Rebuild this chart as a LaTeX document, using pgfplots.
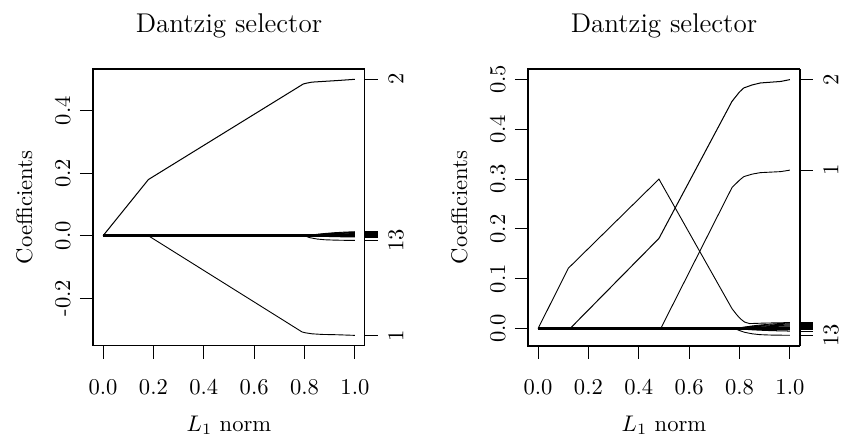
\documentclass[border=0pt]{standalone}
\usepackage{pgfplots}
\pgfplotsset{compat=1.18}
\usepackage{pgfplotstable}

% small coefficients that leave zero near the end of the path
\pgfplotstableread{
x     a       b       d       e       f       g        h        i        m
0     0       0       0       0       0       0        0        0        0
0.80  0       0       0       0       0       0        0        0        0
0.82  0.0020  0.0017  0.0014  0.0010  0.0008  0.0005  -0.0003  -0.0006  -0.0060
0.85  0.0046  0.0039  0.0032  0.0025  0.0018  0.0011  -0.0007  -0.0014  -0.0105
0.88  0.0072  0.0061  0.0050  0.0039  0.0028  0.0017  -0.0011  -0.0022  -0.0128
0.92  0.0098  0.0083  0.0068  0.0053  0.0038  0.0023  -0.0015  -0.0030  -0.0140
0.96  0.0117  0.0099  0.0081  0.0063  0.0045  0.0027  -0.0018  -0.0036  -0.0146
1.00  0.0130  0.0110  0.0090  0.0070  0.0050  0.0030  -0.0020  -0.0040  -0.0150
}\leftband

\pgfplotstableread{
x     a       b       d       e       f       g        h        m
0     0       0       0       0       0       0        0        0
0.78  0       0       0       0       0       0        0        0
0.80  0.0015  0.0012  0.0009  0.0007  0.0004  -0.0003  -0.0007  -0.0040
0.82  0.0030  0.0025  0.0019  0.0014  0.0008  -0.0006  -0.0014  -0.0075
0.85  0.0052  0.0043  0.0033  0.0024  0.0014  -0.0010  -0.0024  -0.0105
0.88  0.0070  0.0058  0.0045  0.0032  0.0019  -0.0013  -0.0032  -0.0122
0.92  0.0088  0.0072  0.0056  0.0040  0.0024  -0.0016  -0.0040  -0.0130
0.96  0.0101  0.0083  0.0064  0.0046  0.0028  -0.0018  -0.0046  -0.0133
1.00  0.0110  0.0090  0.0070  0.0050  0.0030  -0.0020  -0.0050  -0.0135
}\rightband

\pgfplotsset{
  rbox/.style={
    scale only axis, width=120.36pt, height=122.57pt,
    anchor=south west,
    xmin=-0.04, xmax=1.04,
    tick align=outside, major tick length=5.75pt,
    tick style={black, line width=0.4pt},
    axis line style={line width=0.45pt},
  },
  rmain/.style={
    rbox,
    xtick pos=left, ytick pos=left,
    xtick={0,0.2,0.4,0.6,0.8,1.0},
    xticklabels={0.0,0.2,0.4,0.6,0.8,1.0},
    xticklabel style={anchor=base},
    xticklabel shift=15.8pt,
    yticklabel style={rotate=90, anchor=base},
    yticklabel shift=4.4pt,
    title={\large Dantzig selector},
    title style={at={(axis description cs:0.5,1.130)}, anchor=base, yshift=-6pt},
    xlabel={$L_1$ norm},
    xlabel style={at={(axis description cs:0.5,-0.307)}, anchor=base},
    ylabel={Coefficients},
    ylabel style={at={(axis description cs:-0.224,0.5)}, anchor=base, rotate=0},
    cycle list={{black, solid, line width=0.45pt, mark=none}},
  },
  rside/.style={
    rbox,
    axis x line=none, axis y line*=right,
    yticklabel style={rotate=90, anchor=north, inner sep=0pt},
    yticklabel shift=4.4pt,
  },
}

\begin{document}
\begin{tikzpicture}

% ---------- left panel ----------
\begin{axis}[rmain, at={(0pt,0pt)},
  ymin=-0.353, ymax=0.534,
  ytick={-0.2,0,0.2,0.4},
  yticklabels={-0.2,0.0,0.2,0.4},
]
\pgfplotsinvokeforeach{a,b,d,e,f,g,h,i,m}{
  \addplot table[x=x, y=#1] {\leftband};
}
\addplot+[line width=1.3pt] coordinates {(0,0) (1,0)};
\addplot coordinates {(0,0) (0.18,0.18) (0.795,0.486) (0.81,0.489)
  (0.83,0.492) (0.87,0.494) (0.93,0.497) (1.0,0.501)};
\addplot coordinates {(0,0) (0.18,0) (0.79,-0.308) (0.805,-0.311)
  (0.83,-0.314) (0.87,-0.316) (0.93,-0.317) (1.0,-0.319)};
\end{axis}

\begin{axis}[rside, at={(0pt,0pt)},
  ymin=-0.353, ymax=0.534,
  ytick={-0.319,-0.015,-0.004,-0.002,0,0.003,0.005,0.007,0.009,0.011,0.013,0.501},
  yticklabels={1,13,,,,,,,,,,2},
]
\end{axis}

% ---------- right panel ----------
\begin{axis}[rmain, at={(192.49pt,0pt)},
  ymin=-0.035, ymax=0.521,
  ytick={0,0.1,0.2,0.3,0.4,0.5},
  yticklabels={0.0,0.1,0.2,0.3,0.4,0.5},
]
\pgfplotsinvokeforeach{a,b,d,e,f,g,h,m}{
  \addplot table[x=x, y=#1] {\rightband};
}
\addplot+[line width=1.3pt] coordinates {(0,0) (1,0)};
\addplot coordinates {(0,0) (0.12,0.121) (0.48,0.30) (0.77,0.040)
  (0.79,0.027) (0.805,0.019) (0.82,0.013) (0.84,0.010) (0.9,0.011) (1.0,0.012)};
\addplot coordinates {(0,0) (0.127,0) (0.48,0.181) (0.77,0.456) (0.80,0.475)
  (0.817,0.483) (0.85,0.489) (0.883,0.493) (0.963,0.496) (1.0,0.4997)};
\addplot coordinates {(0,0) (0.487,0) (0.77,0.283) (0.80,0.298) (0.817,0.305)
  (0.85,0.310) (0.883,0.313) (0.963,0.315) (1.0,0.318)};
\end{axis}

\begin{axis}[rside, at={(192.49pt,0pt)},
  ymin=-0.035, ymax=0.521,
  ytick={-0.0135,-0.005,-0.002,0,0.003,0.005,0.007,0.009,0.011,0.012,0.318,0.4997},
  yticklabels={13,,,,,,,,,,1,2},
]
\end{axis}

\pgfresetboundingbox
\path (-41.15pt,-40.71pt) rectangle (331.0pt,153.1pt);
\end{tikzpicture}
\end{document}
